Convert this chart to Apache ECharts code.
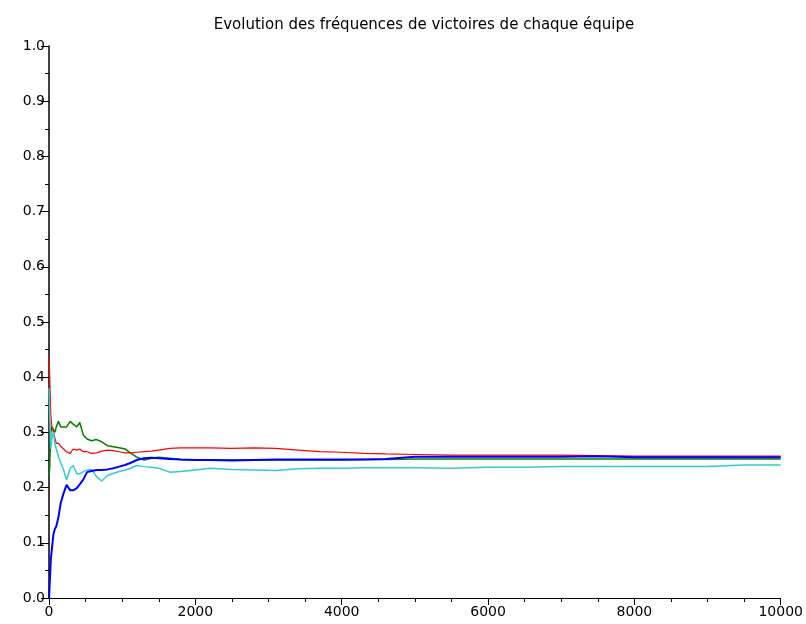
<!DOCTYPE html>
<html>
<head>
<meta charset="utf-8">
<script src="https://cdn.jsdelivr.net/npm/echarts@6/dist/echarts.min.js"></script>
<style>html,body{margin:0;padding:0;background:#fff}#c{width:806px;height:624px}</style>
</head>
<body>
<div id="c"></div>
<script>
var title = "Evolution des fréquences de victoires de chaque équipe";
var trials = [1, 10, 25, 40, 60, 80, 100, 130, 160, 200, 240, 290, 330, 380, 420, 470, 520, 580, 650, 720, 800, 880, 960, 1040, 1120, 1200, 1300, 1400, 1500, 1650, 1800, 2000, 2200, 2500, 2800, 3100, 3400, 3700, 4000, 4300, 4600, 5000, 5500, 6000, 6500, 7000, 7500, 8000, 8500, 9000, 9500, 10000];
var red = [0.437, 0.40, 0.33, 0.31, 0.30, 0.29, 0.28, 0.28, 0.275, 0.27, 0.265, 0.262, 0.27, 0.268, 0.27, 0.265, 0.265, 0.262, 0.263, 0.266, 0.268, 0.267, 0.265, 0.263, 0.263, 0.264, 0.265, 0.266, 0.268, 0.271, 0.272, 0.272, 0.272, 0.271, 0.272, 0.271, 0.268, 0.265, 0.264, 0.262, 0.261, 0.260, 0.259, 0.259, 0.259, 0.259, 0.258, 0.257, 0.257, 0.257, 0.257, 0.257];
var green = [0.22, 0.24, 0.30, 0.31, 0.31, 0.30, 0.31, 0.32, 0.31, 0.31, 0.31, 0.32, 0.315, 0.31, 0.318, 0.295, 0.288, 0.285, 0.287, 0.283, 0.276, 0.274, 0.272, 0.27, 0.262, 0.255, 0.25, 0.253, 0.255, 0.253, 0.251, 0.25, 0.25, 0.25, 0.25, 0.25, 0.25, 0.25, 0.25, 0.251, 0.251, 0.252, 0.252, 0.252, 0.252, 0.252, 0.252, 0.252, 0.252, 0.252, 0.252, 0.252];
var blue = [0.0, 0.0, 0.07, 0.09, 0.115, 0.125, 0.13, 0.147, 0.172, 0.19, 0.205, 0.195, 0.195, 0.199, 0.206, 0.215, 0.228, 0.23, 0.232, 0.232, 0.233, 0.235, 0.238, 0.241, 0.245, 0.25, 0.253, 0.254, 0.253, 0.252, 0.251, 0.25, 0.25, 0.249, 0.25, 0.251, 0.251, 0.251, 0.251, 0.251, 0.252, 0.256, 0.256, 0.256, 0.256, 0.256, 0.257, 0.255, 0.255, 0.255, 0.255, 0.255];
var cyan = [0.38, 0.33, 0.27, 0.29, 0.30, 0.28, 0.27, 0.256, 0.245, 0.232, 0.214, 0.235, 0.24, 0.225, 0.225, 0.229, 0.232, 0.233, 0.22, 0.212, 0.222, 0.226, 0.229, 0.232, 0.235, 0.24, 0.238, 0.237, 0.235, 0.228, 0.229, 0.232, 0.235, 0.233, 0.232, 0.231, 0.234, 0.235, 0.235, 0.236, 0.236, 0.236, 0.235, 0.237, 0.237, 0.238, 0.238, 0.238, 0.238, 0.238, 0.241, 0.241];

function pairs(vals){ return trials.map(function(n,i){ return [n, vals[i]]; }); }
var font = "'DejaVu Sans', sans-serif";
var chart = echarts.init(document.getElementById('c'), null, {renderer:'canvas'});
function ser(name, vals, color, w){
  return {name:name, type:'line', data:pairs(vals), showSymbol:false, symbol:'none',
    lineStyle:{color:color, width:w}, itemStyle:{color:color}, animation:false};
}
chart.setOption({
  animation:false,
  title:{text:title, left:419, top:13, textAlign:'center',
    textStyle:{fontFamily:font, fontSize:15, fontWeight:'normal', color:'#000'}},
  grid:{left:49, right:25, top:46, bottom:26, containLabel:false},
  xAxis:{type:'value', min:0, max:10000, interval:2000,
    axisLine:{show:true, onZero:false, lineStyle:{color:'#000', width:1}},
    axisTick:{show:true, inside:false, length:7, lineStyle:{color:'#000'}},
    minorTick:{show:true, splitNumber:4, length:4, lineStyle:{color:'#000'}},
    splitLine:{show:false},
    axisLabel:{fontFamily:font, fontSize:14, color:'#000', margin:7,
      formatter:function(v){ return String(v); }}},
  yAxis:{type:'value', min:0, max:1, interval:0.1,
    axisLine:{show:true, lineStyle:{color:'#000', width:1.5}},
    axisTick:{show:true, inside:false, length:8, lineStyle:{color:'#000'}},
    minorTick:{show:true, splitNumber:2, length:4, lineStyle:{color:'#000'}},
    splitLine:{show:false},
    axisLabel:{fontFamily:font, fontSize:14, color:'#000', margin:4,
      formatter:function(v){ return v.toFixed(1); }}},
  series:[
    ser('green', green, '#008000', 1.5),
    ser('red', red, '#ff0000', 1.2),
    ser('cyan', cyan, '#33cccc', 1.5),
    ser('blue', blue, '#0000ff', 2)
  ]
});
</script>
</body>
</html>
